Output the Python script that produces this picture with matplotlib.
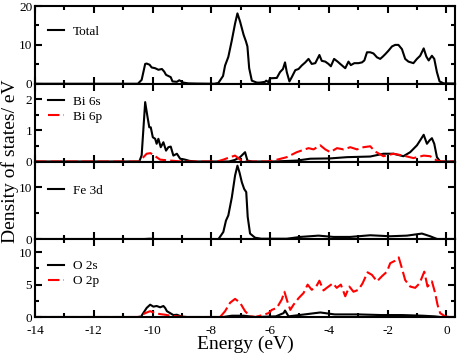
import matplotlib.pyplot as plt
from matplotlib.ticker import MultipleLocator

plt.rcParams['font.family'] = ['Liberation Serif', 'DejaVu Serif']

# (energy, DOS) pairs
total = [(-14, 0), (-10.5, 0), (-10.37, 1.0), (-10.25, 5.1), (-10.2, 5.2), (-10.1, 4.9),
         (-10.03, 4.2), (-9.91, 4.0), (-9.8, 3.6), (-9.68, 3.8), (-9.6, 3.1), (-9.54, 2.3),
         (-9.46, 2.0), (-9.38, 1.7), (-9.32, 0.6), (-9.17, 0.5), (-9.09, 0.9), (-8.95, 0.3),
         (-8.78, 0.1), (-8.5, 0.05), (-7.9, 0), (-7.76, 0.2), (-7.6, 2.0), (-7.53, 4.7),
         (-7.42, 6.9), (-7.3, 11.2), (-7.19, 15.5), (-7.11, 18.1), (-7.02, 16.0), (-6.9, 12.6),
         (-6.82, 10.9), (-6.77, 9.6), (-6.71, 4.0), (-6.62, 0.8), (-6.45, 0.3), (-6.34, 0.3),
         (-6.17, 0.5), (-6.13, 0.8), (-6.05, 0.4), (-6.0, 1.4), (-5.77, 1.5), (-5.66, 3.0),
         (-5.56, 3.8), (-5.49, 5.5), (-5.43, 3.0), (-5.34, 0.6), (-5.26, 1.7), (-5.14, 3.5),
         (-5.03, 3.8), (-4.92, 4.7), (-4.8, 5.5), (-4.69, 6.4), (-4.58, 5.1), (-4.46, 5.3),
         (-4.32, 7.4), (-4.24, 5.9), (-4.12, 5.7), (-4.01, 5.1), (-3.93, 4.5), (-3.82, 6.4),
         (-3.7, 5.7), (-3.61, 5.1), (-3.44, 4.0), (-3.33, 5.7), (-3.25, 4.8), (-3.13, 5.3),
         (-2.99, 5.3), (-2.87, 5.5), (-2.79, 6.0), (-2.7, 8.1), (-2.59, 8.1), (-2.48, 7.8),
         (-2.36, 6.8), (-2.25, 6.4), (-2.16, 7.0), (-2.08, 7.6), (-1.97, 8.5), (-1.85, 9.6),
         (-1.74, 10.0), (-1.63, 10.0), (-1.51, 8.9), (-1.4, 6.4), (-1.29, 5.7), (-1.12, 5.3),
         (-1.0, 6.4), (-0.89, 7.2), (-0.77, 9.1), (-0.68, 7.0), (-0.6, 6.0), (-0.49, 7.2),
         (-0.41, 6.4), (-0.32, 3.0), (-0.23, 0.6), (-0.09, 0.1), (0.3, 0.05)]

bi6s = [(-14, 0), (-10.45, 0), (-10.37, 0.2), (-10.25, 1.91), (-10.17, 1.43), (-10.11, 1.1),
        (-10.06, 1.1), (-9.99, 0.78), (-9.91, 0.73), (-9.86, 0.57), (-9.8, 0.73), (-9.72, 0.46),
        (-9.63, 0.62), (-9.54, 0.35), (-9.46, 0.46), (-9.38, 0.48), (-9.29, 0.19), (-9.17, 0.25),
        (-9.06, 0.09), (-8.89, 0.06), (-8.74, 0.02), (-8.5, 0), (-7.4, 0), (-7.2, 0.05),
        (-7.02, 0.14), (-6.85, 0.3), (-6.77, 0.03), (-6.6, 0), (-5.9, 0), (-5.09, 0.03),
        (-4.63, 0.09), (-3.95, 0.1), (-3.38, 0.14), (-2.59, 0.16), (-2.14, 0.25), (-1.8, 0.25),
        (-1.46, 0.17), (-1.23, 0.3), (-1.0, 0.52), (-0.89, 0.68), (-0.77, 0.86), (-0.66, 0.57),
        (-0.57, 0.68), (-0.49, 0.75), (-0.41, 0.57), (-0.32, 0.14), (-0.21, 0), (0.3, 0)]

bi6p = [(-14, 0), (-10.45, 0), (-10.2, 0.25), (-10.07, 0.27), (-9.91, 0.17), (-9.74, 0.06),
        (-9.4, 0.03), (-9.0, 0), (-7.8, 0), (-7.59, 0.06), (-7.36, 0.14), (-7.19, 0.19),
        (-7.02, 0.06), (-6.9, 0), (-6.1, 0), (-5.88, 0.03), (-5.43, 0.14), (-5.09, 0.3),
        (-4.69, 0.43), (-4.52, 0.39), (-4.29, 0.52), (-4.12, 0.39), (-3.95, 0.3), (-3.72, 0.43),
        (-3.5, 0.39), (-3.27, 0.46), (-3.04, 0.39), (-2.82, 0.46), (-2.59, 0.49), (-2.42, 0.32),
        (-2.14, 0.17), (-1.8, 0.25), (-1.46, 0.19), (-1.12, 0.11), (-0.77, 0.19), (-0.55, 0.17),
        (-0.32, 0.03), (-0.15, 0), (0.3, 0)]

fe3d = [(-14, 0), (-10.4, 0), (-10.1, 0.1), (-9.8, 0), (-7.76, 0), (-7.59, 1.4), (-7.5, 3.6),
        (-7.42, 4.6), (-7.3, 8.1), (-7.19, 12.3), (-7.11, 14.2), (-7.04, 12.9), (-6.96, 11.0),
        (-6.88, 9.7), (-6.81, 9.1), (-6.76, 4.3), (-6.68, 1.1), (-6.51, 0.3), (-6.3, 0.1),
        (-5.43, 0.1), (-4.97, 0.45), (-4.35, 0.7), (-3.84, 0.45), (-3.27, 0.45), (-2.59, 0.77),
        (-1.91, 0.58), (-1.34, 0.7), (-0.83, 1.1), (-0.55, 0.58), (-0.32, 0.06), (-0.15, 0),
        (0.3, 0)]

o2s = [(-14, 0), (-10.4, 0), (-10.2, 1.4), (-10.08, 1.9), (-9.97, 1.6), (-9.86, 1.7),
       (-9.74, 1.5), (-9.63, 1.7), (-9.57, 1.4), (-9.51, 0.9), (-9.4, 0.6), (-9.29, 0.3),
       (-9.17, 0.35), (-9.0, 0.05), (-8.8, 0), (-7.6, 0), (-7.3, 0.2), (-6.9, 0.2), (-6.5, 0),
       (-5.8, 0.1), (-5.54, 0.6), (-5.49, 1.0), (-5.37, 0.1), (-5.0, 0.3), (-4.29, 0.7),
       (-3.8, 0.4), (-3.0, 0.4), (-2.2, 0.3), (-1.5, 0.3), (-0.8, 0.2), (-0.4, 0.1),
       (-0.2, 0), (0.3, 0)]

o2p = [(-14, 0), (-10.48, 0), (-10.25, 0.6), (-10.08, 0.9), (-9.91, 0.6), (-9.74, 0.45),
       (-9.57, 0.35), (-9.4, 0.2), (-9.17, 0.1), (-8.9, 0), (-7.7, 0), (-7.53, 0.9),
       (-7.36, 2.2), (-7.19, 2.8), (-7.02, 2.2), (-6.85, 0.9), (-6.68, 0.1), (-6.5, 0),
       (-6.22, 0.35), (-6.05, 0.6), (-5.94, 1.1), (-5.77, 1.4), (-5.6, 2.7), (-5.51, 3.9),
       (-5.41, 2.4), (-5.31, 1.1), (-5.2, 1.9), (-5.03, 2.9), (-4.86, 3.7), (-4.72, 5.0),
       (-4.58, 4.2), (-4.43, 4.7), (-4.32, 5.6), (-4.18, 4.1), (-4.07, 4.5), (-3.86, 5.2),
       (-3.73, 4.5), (-3.59, 5.0), (-3.44, 3.2), (-3.3, 4.7), (-3.16, 3.9), (-2.99, 4.2),
       (-2.85, 5.2), (-2.68, 6.9), (-2.53, 6.5), (-2.36, 5.5), (-2.19, 6.3), (-2.02, 7.0),
       (-1.91, 8.3), (-1.74, 8.7), (-1.62, 9.2), (-1.51, 7.5), (-1.4, 5.7), (-1.23, 4.7),
       (-1.06, 4.5), (-0.91, 5.2), (-0.75, 7.0), (-0.64, 4.7), (-0.49, 5.5), (-0.38, 3.7),
       (-0.3, 1.9), (-0.21, 0.6), (-0.04, 0.1), (0.1, 0), (0.3, 0)]

panels = [
    ([(total, 'Total', 'k', '-')], 20, 10, (0.031, 0.75)),
    ([(bi6s, 'Bi 6s', 'k', '-'), (bi6p, 'Bi 6p', 'red', '--')], 2.5, 1, (0.031, 0.85)),
    ([(fe3d, 'Fe 3d', 'k', '-')], 15, 10, (0.031, 0.70)),
    ([(o2s, 'O 2s', 'k', '-'), (o2p, 'O 2p', 'red', '--')], 12, 5, (0.031, 0.73)),
]

fig, axes = plt.subplots(4, 1, figsize=(4.63, 3.54), dpi=100, sharex=True)
fig.subplots_adjust(left=0.0756, right=0.983, top=0.983, bottom=0.1045, hspace=0)

for ax, (series, ymax, major, anchor) in zip(axes, panels):
    for data, label, color, ls in series:
        e, d = zip(*data)
        if ls == '--':
            ax.plot(e, d, color=color, lw=1.5, dashes=(5.5, 2), label=label)
        else:
            ax.plot(e, d, color=color, lw=1.5, label=label)
    ax.set_xlim(-14, 0.3)
    ax.set_ylim(0, ymax)
    ax.xaxis.set_major_locator(MultipleLocator(2))
    ax.xaxis.set_minor_locator(MultipleLocator(1))
    ax.yaxis.set_major_locator(MultipleLocator(major))
    ax.yaxis.set_minor_locator(MultipleLocator(major / 2))
    ax.tick_params(which='both', direction='in', top=True, right=True, width=1.5,
                   labelsize=9.5)
    ax.tick_params(axis='y', pad=2)
    ax.tick_params(axis='x', pad=5.5)
    ax.tick_params(which='major', length=5)
    ax.tick_params(which='minor', length=3)
    for s in ax.spines.values():
        s.set_linewidth(1.5)
    ax.legend(loc='upper left', bbox_to_anchor=anchor, frameon=False, fontsize=9.5,
              handlelength=1.2, handletextpad=0.7, borderpad=0, borderaxespad=0,
              labelspacing=0.2)

axes[-1].set_xticks(range(-14, 1, 2))
axes[-1].set_xticklabels([str(v) for v in range(-14, 1, 2)])
axes[-1].set_xlabel('Energy (eV)', fontsize=14, labelpad=-1)
fig.text(0.022, 0.545, 'Density of states/ eV', rotation=90, fontsize=14,
         ha='center', va='center')

fig.savefig('out.png', dpi=100)
